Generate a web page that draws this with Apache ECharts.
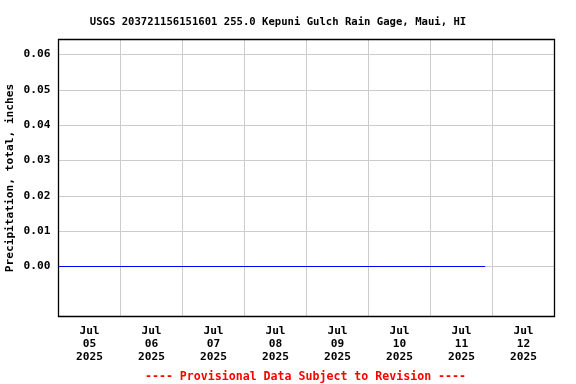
<!DOCTYPE html>
<html><head><meta charset="utf-8">
<script src="https://cdn.jsdelivr.net/npm/echarts@6/dist/echarts.min.js"></script>
<style>html,body{margin:0;padding:0;background:#fff}#c{width:576px;height:384px}</style>
</head><body><div id="c"></div>
<script>
var dayLabels = ['Jul\n05\n2025','Jul\n06\n2025','Jul\n07\n2025','Jul\n08\n2025','Jul\n09\n2025','Jul\n10\n2025','Jul\n11\n2025','Jul\n12\n2025'];
var obsTimes = ['2025-07-05T00:00:00','2025-07-11T21:10:00'];
var obsValues = [0.00, 0.00];
var yTicks = [0.00, 0.01, 0.02, 0.03, 0.04, 0.05, 0.06];
var xStart = '2025-07-05T00:00:00', xEnd = '2025-07-13T00:00:00';

var font = 'DejaVu Sans Mono';
var chart = echarts.init(document.getElementById('c'));
chart.setOption({
  animation: false,
  backgroundColor: '#fff',
  title: [{
    text: 'USGS 203721156151601 255.0 Kepuni Gulch Rain Gage, Maui, HI',
    left: 273, top: 12, textAlign: 'center',
    textStyle: {fontFamily: font, fontWeight: 'bold', fontSize: 10.6, color: '#000'}
  }, {
    text: '---- Provisional Data Subject to Revision ----',
    left: 300.5, top: 366, textAlign: 'center',
    textStyle: {fontFamily: font, fontWeight: 'bold', fontSize: 11.6, color: '#ff0000'}
  }],
  grid: {left: 58.5, top: 39.5, right: 21.5, bottom: 67.5, show: true, borderColor: '#000', borderWidth: 1.3,
    containLabel: false, outerBoundsMode: 'none', z: 10},
  xAxis: [{
    type: 'category', data: dayLabels, boundaryGap: true,
    axisLine: {show: false}, axisTick: {show: false},
    axisLabel: {fontFamily: font, fontWeight: 'bold', fontSize: 11.2, color: '#000', lineHeight: 13, margin: 8, interval: 0},
    splitLine: {show: true, interval: 0, showMinLine: false, showMaxLine: false, lineStyle: {color: '#cccccc', width: 1}}
  }, {
    type: 'time', min: xStart, max: xEnd, show: false
  }],
  yAxis: {
    type: 'value', min: -0.01415, max: 0.06425,
    name: 'Precipitation, total, inches', nameLocation: 'middle', nameGap: 42.5, nameRotate: 90,
    nameMoveOverlap: false,
    nameTextStyle: {fontFamily: font, fontWeight: 'bold', fontSize: 11.2, color: '#000'},
    axisLine: {show: false},
    axisTick: {show: false, customValues: yTicks},
    axisLabel: {customValues: yTicks, fontFamily: font, fontWeight: 'bold', fontSize: 11.2, color: '#000', margin: 8,
      formatter: function (v) { return v.toFixed(2); }},
    splitLine: {show: true, lineStyle: {color: '#cccccc', width: 1}}
  },
  series: [{
    type: 'line', xAxisIndex: 1, yAxisIndex: 0,
    data: obsTimes.map(function (t, i) { return [t, obsValues[i]]; }),
    showSymbol: false, lineStyle: {color: '#0000ff', width: 1}, z: 5
  }]
});
</script></body></html>
